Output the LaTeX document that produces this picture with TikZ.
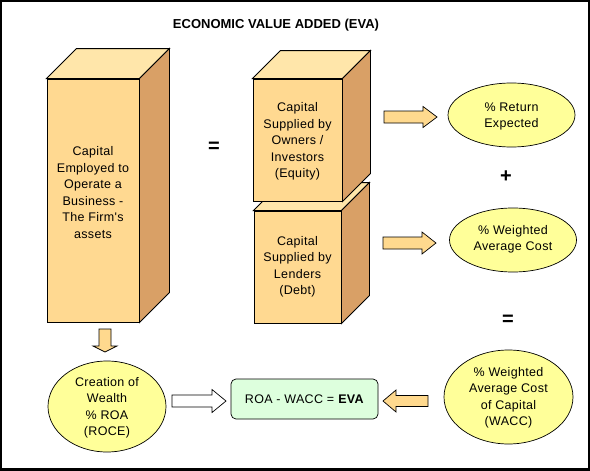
\documentclass[tikz,border=0pt]{standalone}
\usepackage{fontspec}
\setmainfont{Liberation Sans}
\newfontfamily\spacedfont[LetterSpace=2.5]{Liberation Sans}
\usetikzlibrary{shapes.geometric,calc}
\definecolor{frontc}{HTML}{FFD991}
\definecolor{topc}{HTML}{FFE6AA}
\definecolor{sidec}{HTML}{D9A066}
\definecolor{ellc}{HTML}{FFFF99}
\definecolor{grnc}{HTML}{DDFFDD}
\definecolor{arrc}{HTML}{FFD98E}
\begin{document}
\begin{tikzpicture}[x=1pt,y=-1pt,
  txt/.style={font=\spacedfont\fontsize{12.5}{16.5}\selectfont, align=center, inner sep=0pt},
  face/.style={draw=black, line width=0.9pt, line join=miter},
  frontface/.style={face, fill=frontc, inner sep=0pt},
  topface/.style={face, fill=topc},
  sideface/.style={face, fill=sidec},
  oval/.style={ellipse, draw=black, line width=0.7pt, fill=ellc, inner sep=0pt},
  sym/.style={font=\fontsize{20}{20}\bfseries\selectfont, inner sep=0pt},
  pics/barrow/.style args={#1/#2/#3/#4}{code={
    \draw[pic actions] (0,-#2) -- (#1-#4,-#2) -- (#1-#4,-#3) -- (#1,0)
      -- (#1-#4,#3) -- (#1-#4,#2) -- (0,#2) -- cycle;}},
  barrowstyle/.style={draw=black, line width=0.7pt, fill=arrc, line join=miter},
]
\useasboundingbox (0,0) rectangle (590,471);
\fill[black] (0,0) rectangle (590,471);
\fill[white] (2,2) rectangle (588,468);

\node[font=\fontsize{13}{14}\bfseries\selectfont, inner sep=0pt] (title) at (276,25) {ECONOMIC VALUE ADDED (EVA)};

% big box
\node[frontface, minimum width=92pt, minimum height=243pt] (cap) at (93,200.5) {};
\draw[topface] (cap.north west) -- ++(30,-30) -- ($(cap.north east)+(30,-30)$) -- (cap.north east) -- cycle;
\draw[sideface] (cap.north east) -- ++(30,-30) -- ($(cap.south east)+(30,-30)$) -- (cap.south east) -- cycle;
\node[txt] (captext) at (93,192.5) {Capital\\Employed to\\Operate a\\Business -\\The Firm's\\assets};

% debt box
\node[frontface, minimum width=87pt, minimum height=112pt] (debt) at (297.5,267) {};
\draw[topface] (debt.north west) -- ++(28,-28) -- ($(debt.north east)+(28,-28)$) -- (debt.north east) -- cycle;
\draw[sideface] (debt.north east) -- ++(28,-28) -- ($(debt.south east)+(28,-28)$) -- (debt.south east) -- cycle;
\node[txt] (debttext) at (297.5,267) {Capital\\Supplied by\\Lenders\\(Debt)};

% equity box
\node[frontface, minimum width=89pt, minimum height=122pt] (eq) at (297.5,140) {};
\draw[topface] (eq.north west) -- ++(28,-28) -- ($(eq.north east)+(28,-28)$) -- (eq.north east) -- cycle;
\draw[sideface] (eq.north east) -- ++(28,-28) -- ($(eq.south east)+(28,-28)$) -- (eq.south east) -- cycle;
\node[txt] (eqtext) at (297.5,141.5) {Capital\\Supplied by\\Owners /\\Investors\\(Equity)};

\node[sym] (eqsign) at (214,147) {=};

% ellipses
\node[oval, minimum width=127pt, minimum height=64pt] (ret) at (511.5,115) {};
\node[txt] (rettext) at (511.5,116.5) {\% Return\\Expected};
\node[sym] (plus) at (506,177) {+};
\node[oval, minimum width=127pt, minimum height=64pt] (wac) at (513,240) {};
\node[txt] (wactext) at (513,239.5) {\% Weighted\\Average Cost};
\node[sym] (eqsign2) at (508,320) {=};
\node[oval, minimum width=129pt, minimum height=94pt] (wacc) at (508.5,397) {};
\node[txt] (wacctext) at (508.5,398) {\% Weighted\\Average Cost\\of Capital\\(WACC)};
\node[oval, minimum width=118pt, minimum height=91pt] (roce) at (107,406.5) {};
\node[txt] (rocetext) at (107,408) {Creation of\\Wealth\\\% ROA\\(ROCE)};

% EVA box
\node[draw=black, line width=0.7pt, fill=grnc, rounded corners=5pt, minimum width=147pt, minimum height=40pt, font=\spacedfont\fontsize{12.5}{14}\selectfont] (eva) at (304.5,399) {ROA - WACC = \textbf{EVA}};

% block arrows
\coordinate (a1) at (384,117);
\coordinate (a2) at (383,243);
\coordinate (a3) at (428,401);
\coordinate (a4) at (172,401);
\coordinate (a5) at (105,329);
\pic[barrowstyle] at (a1) {barrow={53/6/10.5/14}};
\pic[barrowstyle] at (a2) {barrow={53/6/11/14}};
\pic[barrowstyle, rotate=180] at (a3) {barrow={45/5.5/11/13}};
\pic[barrowstyle, fill=white] at (a4) {barrow={54/6/11.5/14}};
\pic[barrowstyle, rotate=-90] at (a5) {barrow={23/6/12/6}};
\end{tikzpicture}
\end{document}
